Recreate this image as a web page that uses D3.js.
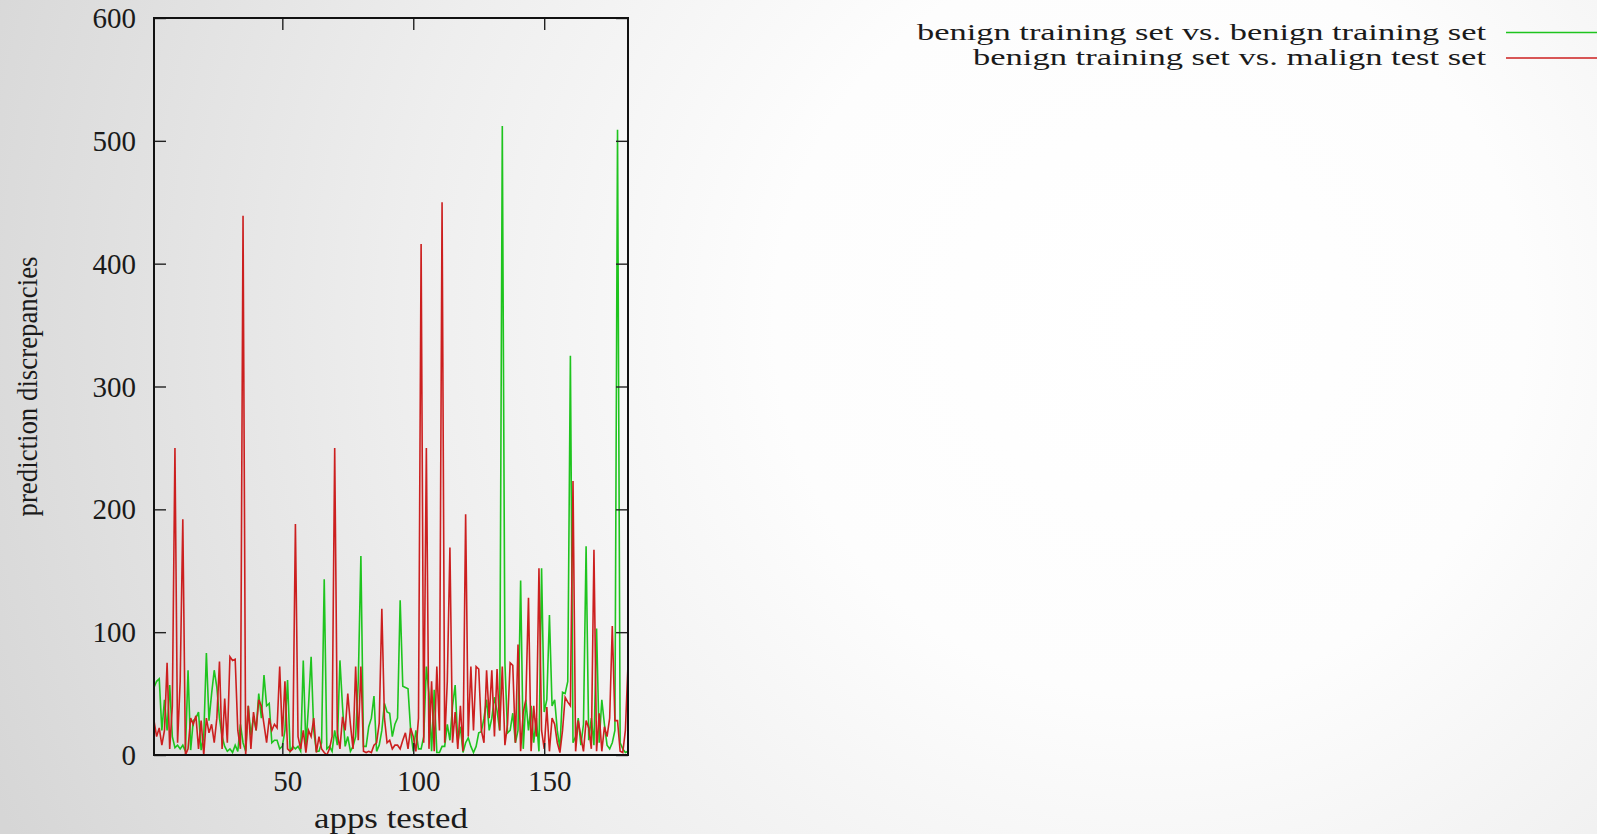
<!DOCTYPE html>
<html>
<head>
<meta charset="utf-8">
<script src="https://cdn.jsdelivr.net/npm/d3@7"></script>
<style>
  html, body { margin: 0; padding: 0; overflow: hidden; }
  svg { display: block; }
  text { font-family: "Liberation Serif", "Times New Roman", serif; fill: #1a1a1a; }
</style>
</head>
<body>
<div id="chart"></div>
<script>
// series, one value per app (apps 1..182)
var benignVsBenign = [
  55,60,62,20,45,20,57,15,6,8,
  5,8,3,69,4,28,30,35,4,15,
  83,28,50,69,55,30,15,7,3,5,
  2,8,3,25,10,3,40,16,31,20,
  50,30,65,40,42,10,12,12,5,7,
  20,61,3,7,5,7,3,77,7,40,
  80,20,3,3,10,143,5,7,3,20,
  8,77,39,7,15,3,7,15,60,162,
  7,7,23,30,48,3,8,20,42,35,
  34,15,25,30,126,56,55,54,20,3,
  20,5,5,15,72,50,3,53,2,2,
  7,7,25,12,40,57,10,23,2,10,
  14,7,2,7,18,19,30,45,20,30,
  47,36,20,512,75,18,20,34,10,20,
  142,5,45,20,40,10,30,3,152,35,
  45,114,40,45,20,5,51,50,60,325,
  10,15,30,8,25,170,12,30,8,103,
  10,45,25,8,5,10,20,509,10,5,
  2,3
];
var benignVsMalign = [
  28,15,22,8,20,75,5,40,250,10,
  60,192,0,5,30,25,32,5,28,0,
  30,18,25,10,30,76,5,46,10,80,
  77,78,20,5,439,0,40,5,35,20,
  45,40,25,10,30,20,25,22,72,15,
  60,5,3,5,188,15,5,20,2,20,
  15,30,2,15,5,2,0,5,15,250,
  18,5,31,20,50,25,5,72,12,72,
  3,2,3,2,8,10,26,119,30,10,
  12,5,8,8,5,12,18,5,22,15,
  3,30,416,10,250,5,60,3,72,20,
  450,10,60,169,10,35,5,40,3,196,
  15,72,20,72,70,20,10,69,30,69,
  15,70,20,72,8,25,75,73,10,90,
  3,35,45,128,3,40,15,152,20,5,
  39,3,30,25,10,2,20,47,43,40,
  223,3,28,15,3,28,22,5,167,3,
  34,3,23,15,30,105,28,28,3,2,
  20,74
];
var seriesNames = ["benign training set vs. benign training set", "benign training set vs. malign test set"];
var seriesColors = ["#1ec41e", "#cc1f1f"];
var xTicks = [50, 100, 150];
var yTicks = [0, 100, 200, 300, 400, 500, 600];

var W = 1597, H = 834;
var margin = {left: 154, right: W - 628, top: 18, bottom: H - 755};
var width = W - margin.left - margin.right,
    height = H - margin.top - margin.bottom;

var svg = d3.select("#chart").append("svg")
  .attr("width", W)
  .attr("height", H);

// slide-like background: white in the middle, grey to the edges
var grad = svg.append("defs").append("radialGradient")
  .attr("id", "bg")
  .attr("gradientUnits", "userSpaceOnUse")
  .attr("cx", 1150).attr("cy", 320).attr("r", 1250);
grad.append("stop").attr("offset", "0").attr("stop-color", "#ffffff");
grad.append("stop").attr("offset", "0.3").attr("stop-color", "#fdfdfd");
grad.append("stop").attr("offset", "0.6").attr("stop-color", "#eeeeee");
grad.append("stop").attr("offset", "1").attr("stop-color", "#d6d6d6");
svg.append("rect").attr("width", W).attr("height", H).attr("fill", "url(#bg)");

var g = svg.append("g").attr("transform", `translate(${margin.left},${margin.top})`);

var apps = d3.range(1, benignVsBenign.length + 1);
var x = d3.scaleLinear().domain([1, apps.length]).range([0, width]);
var y = d3.scaleLinear().domain([0, 600]).range([height, 0]);

// clip so lines stay inside the frame
g.append("clipPath").attr("id", "clip")
  .append("rect").attr("width", width).attr("height", height);

var line = d3.line()
  .x(function(d, i) { return x(apps[i]); })
  .y(function(d) { return y(d); });

[benignVsBenign, benignVsMalign].forEach(function(vals, k) {
  g.append("path")
    .datum(vals)
    .attr("clip-path", "url(#clip)")
    .attr("fill", "none")
    .attr("stroke", seriesColors[k])
    .attr("stroke-width", 1.6)
    .attr("stroke-linejoin", "miter")
    .attr("d", line);
});

// axes, ticks pointing inward on all four sides
var tickLen = 12;
var fs = "29px";

var xb = g.append("g").attr("transform", `translate(0,${height})`)
  .call(d3.axisBottom(x).tickValues(xTicks).tickSize(-tickLen).tickPadding(0));
xb.selectAll("text").attr("dy", null).attr("y", 36).attr("x", 5).style("font-size", fs);

g.append("g")
  .call(d3.axisTop(x).tickValues(xTicks).tickSize(-tickLen).tickFormat(""));

var yl = g.append("g")
  .call(d3.axisLeft(y).tickValues(yTicks).tickSize(-tickLen).tickPadding(18));
yl.selectAll("text").attr("dy", "0.33em").style("font-size", fs);

g.append("g").attr("transform", `translate(${width},0)`)
  .call(d3.axisRight(y).tickValues(yTicks).tickSize(-tickLen).tickFormat(""));

g.selectAll(".domain").remove();
g.selectAll(".tick line").attr("stroke", "#222").attr("stroke-width", 1.4);
g.selectAll(".tick text").attr("fill", "#1a1a1a").attr("font-family", null);

// frame
g.append("rect")
  .attr("width", width).attr("height", height)
  .attr("fill", "none").attr("stroke", "#111").attr("stroke-width", 2);

// axis titles
svg.append("text")
  .attr("x", margin.left + width / 2)
  .attr("y", 828)
  .attr("text-anchor", "middle")
  .attr("textLength", 154)
  .attr("lengthAdjust", "spacingAndGlyphs")
  .style("font-size", fs)
  .text("apps tested");

svg.append("text")
  .attr("transform", `translate(37,${margin.top + height / 2}) rotate(-90)`)
  .attr("text-anchor", "middle")
  .attr("textLength", 260)
  .attr("lengthAdjust", "spacingAndGlyphs")
  .style("font-size", fs)
  .text("prediction discrepancies");

// legend, top right
var legendW = [569, 513];
var legend = svg.append("g");
seriesNames.forEach(function(name, k) {
  var ly = 32.5 + k * 25.5;
  legend.append("text")
    .attr("x", 1486)
    .attr("y", ly + 7)
    .attr("text-anchor", "end")
    .attr("textLength", legendW[k])
    .attr("lengthAdjust", "spacingAndGlyphs")
    .style("font-size", "23px")
    .text(name);
  legend.append("line")
    .attr("x1", 1506).attr("x2", 1597)
    .attr("y1", ly).attr("y2", ly)
    .attr("stroke", seriesColors[k])
    .attr("stroke-width", 1.6);
});
</script>
</body>
</html>
